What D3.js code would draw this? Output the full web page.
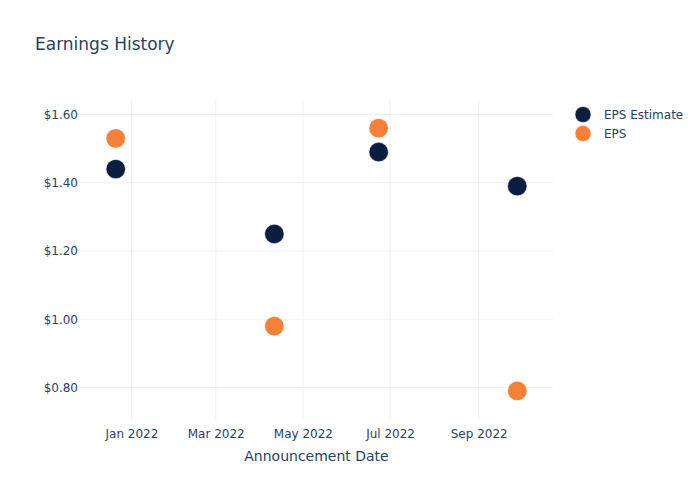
<!DOCTYPE html>
<html><head><meta charset="utf-8">
<script src="https://cdn.jsdelivr.net/npm/d3@7"></script>
<style>body{margin:0;background:#fff}svg{font-family:"DejaVu Sans",Verdana,sans-serif}</style>
</head><body><svg id="c" width="700" height="500"></svg>
<script>
const dates = ["2021-12-21", "2022-04-11", "2022-06-23", "2022-09-28"];
const epsEstimate = [1.44, 1.25, 1.49, 1.39];
const eps = [1.53, 0.98, 1.56, 0.79];
const xTickDates = ["2022-01-01", "2022-03-01", "2022-05-01", "2022-07-01", "2022-09-01"];
const xTickLabels = ["Jan 2022", "Mar 2022", "May 2022", "Jul 2022", "Sep 2022"];
const yTicks = [0.8, 1.0, 1.2, 1.4, 1.6];
const seriesNames = ["EPS Estimate", "EPS"];
const colors = ["#0b1e40", "#f68038"];

const parse = d3.utcParse("%Y-%m-%d");
const svg = d3.select("#c");
const L = 80, R = 553, T = 100, B = 420;
const x = d3.scaleUtc().domain([parse("2021-11-26"), parse("2022-10-23")]).range([L, R]);
const y = d3.scaleLinear().domain([0.7048, 1.6425]).range([B, T]);
const txt = "#2a3f5f", grid = "#ebf0f8";

// grid
svg.append("g").selectAll("line").data(xTickDates).join("line")
  .attr("x1", d => x(parse(d))).attr("x2", d => x(parse(d)))
  .attr("y1", T).attr("y2", B).attr("stroke", grid).attr("stroke-width", 1);
svg.append("g").selectAll("line").data(yTicks).join("line")
  .attr("x1", L).attr("x2", R).attr("y1", d => y(d)).attr("y2", d => y(d))
  .attr("stroke", grid).attr("stroke-width", 1);

// axes
const xAxis = d3.axisBottom(x).tickValues(xTickDates.map(parse))
  .tickFormat((d, i) => xTickLabels[i]).tickSize(0).tickPadding(9);
const gx = svg.append("g").attr("transform", `translate(0,${B})`).call(xAxis);
gx.select(".domain").remove();
gx.selectAll("text").attr("fill", txt).attr("font-size", 12).attr("font-family", "DejaVu Sans");

const yAxis = d3.axisLeft(y).tickValues(yTicks).tickFormat(d => "$" + d3.format(".2f")(d)).tickSize(0).tickPadding(2);
const gy = svg.append("g").attr("transform", `translate(${L},0)`).call(yAxis);
gy.select(".domain").remove();
gy.selectAll("text").attr("fill", txt).attr("font-size", 12).attr("font-family", "DejaVu Sans");

// points
[epsEstimate, eps].forEach((vals, si) => {
  svg.append("g").selectAll("circle").data(vals).join("circle")
    .attr("cx", (d, i) => x(parse(dates[i]))).attr("cy", d => y(d))
    .attr("r", 9.7).attr("fill", colors[si]).attr("stroke", "#fff").attr("stroke-width", 0.5);
});

// title
svg.append("text").attr("x", 35).attr("y", 50).attr("font-size", 17).attr("fill", txt).text("Earnings History");
svg.append("text").attr("x", (L + R) / 2).attr("y", 461).attr("text-anchor", "middle")
  .attr("font-size", 14).attr("fill", txt).text("Announcement Date");

// legend
const lg = svg.append("g").selectAll("g").data(seriesNames).join("g")
  .attr("transform", (d, i) => `translate(583,${114.5 + i * 19})`);
lg.append("circle").attr("r", 8).attr("fill", (d, i) => colors[i]).attr("stroke", "#fff").attr("stroke-width", 0.5);
lg.append("text").attr("x", 21).attr("y", 4.5).attr("font-size", 12).attr("fill", txt).text(d => d);
</script></body></html>
